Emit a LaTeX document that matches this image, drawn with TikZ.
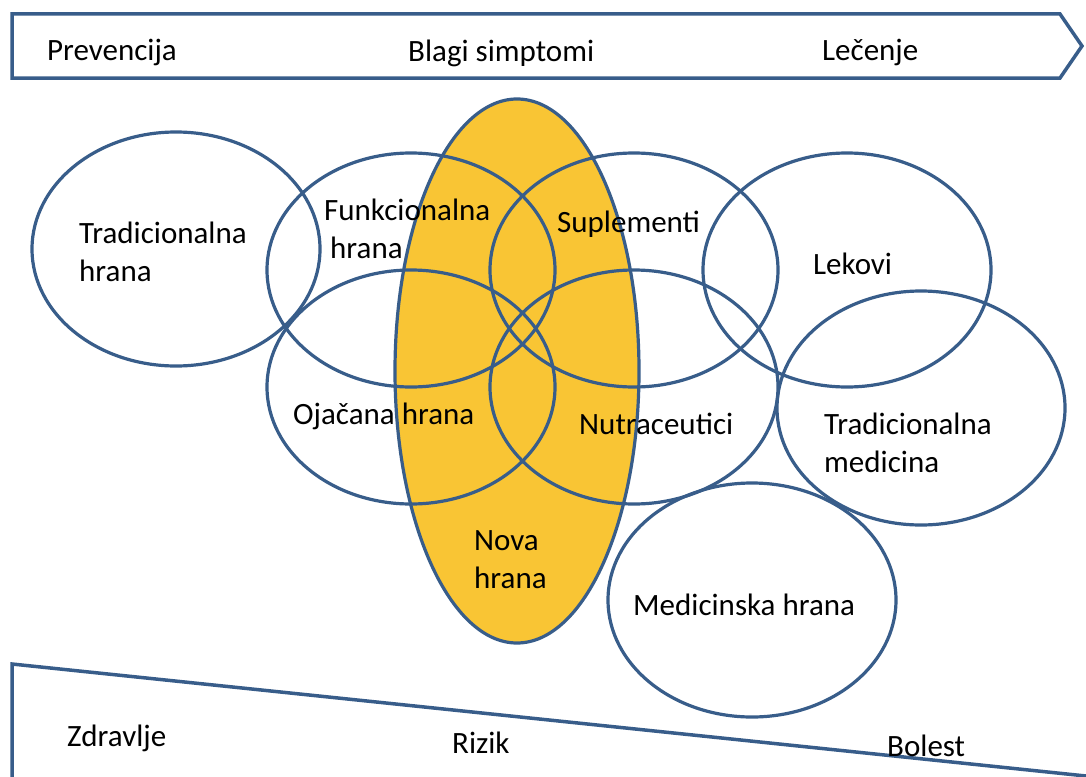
\documentclass[tikz,border=0pt]{standalone}
\usepackage{fontspec}
\setmainfont{Carlito}
\usetikzlibrary{shapes.geometric}
\definecolor{lineblue}{RGB}{56,93,138}
\definecolor{novayellow}{RGB}{249,197,52}
\begin{document}
\begin{tikzpicture}[x=1pt,y=-1pt,
  ring/.style={ellipse, draw=lineblue, line width=3.2pt, inner sep=0pt,
    minimum width=288pt, minimum height=234pt},
  frame/.style={draw=lineblue, line width=3.5pt, line join=miter},
  lbl/.style={inner sep=0pt, align=left, anchor=base west,
    font=\fontsize{31}{38}\selectfont}]
\useasboundingbox (0,0) rectangle (1086,776);
\fill[white] (0,0) rectangle (1086,776);
% top arrow
\coordinate (a1) at (12,14);
\coordinate (a2) at (1060,14);
\coordinate (a3) at (1082,46);
\coordinate (a4) at (1060,78);
\coordinate (a5) at (12,78);
\draw[frame] (a1) -- (a2) -- (a3) -- (a4) -- (a5) -- cycle;
% bottom wedge
\coordinate (w1) at (12,778);
\coordinate (w2) at (12,664);
\coordinate (w3) at (1086,776);
\draw[frame] (w1) -- (w2) -- (w3);
% yellow ellipse
\node[ring, fill=novayellow, minimum width=244pt, minimum height=544pt] (nova) at (517,371) {};
% circles
\node[ring] (trad)  at (176,249) {};
\node[ring] (funk)  at (411,270) {};
\node[ring] (ojac)  at (411,387) {};
\node[ring] (supl)  at (634,270) {};
\node[ring] (nutr)  at (634,387) {};
\node[ring] (lek)   at (847,270) {};
\node[ring] (tmed)  at (921,408) {};
\node[ring] (medh)  at (752,600) {};
% labels (multi-line nodes: base = last line)
\node[lbl] (tPrev) at (47,60) {Prevencija};
\node[lbl] (tBlag) at (408,61) {Blagi simptomi};
\node[lbl] (tLec)  at (822,60) {Lečenje};
\node[lbl] (tTrad) at (79,281) {Tradicionalna\\hrana};
\node[lbl] (tFunk) at (324,258) {Funkcionalna\\\hspace{6pt}hrana};
\node[lbl] (tSupl) at (557,232) {Suplementi};
\node[lbl] (tLek)  at (813,274) {Lekovi};
\node[lbl] (tOjac) at (293,424) {Ojačana hrana};
\node[lbl] (tNutr) at (579,434) {Nutraceutici};
\node[lbl] (tTmed) at (824,472) {Tradicionalna\\medicina};
\node[lbl] (tNova) at (474,588) {Nova\\hrana};
\node[lbl] (tMedh) at (633,615) {Medicinska hrana};
\node[lbl] (tZdr)  at (67,746) {Zdravlje};
\node[lbl] (tRiz)  at (452,753) {Rizik};
\node[lbl] (tBol)  at (887,756) {Bolest};
\end{tikzpicture}
\end{document}
